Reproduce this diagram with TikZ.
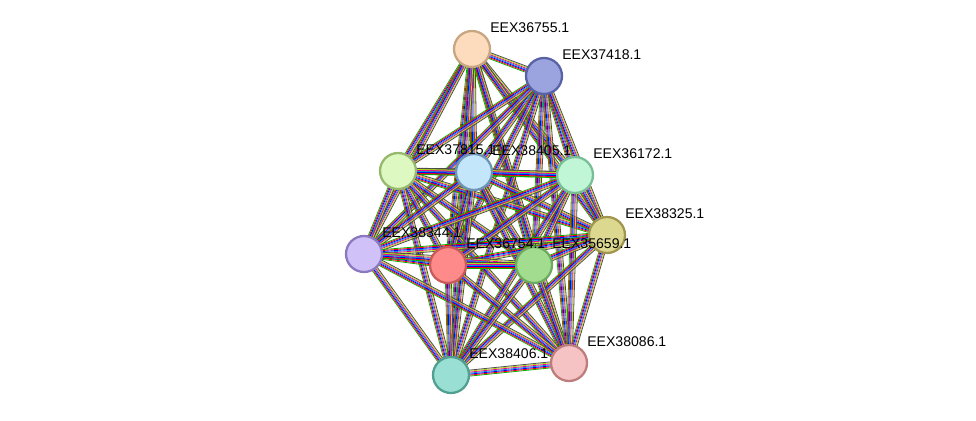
\documentclass[tikz,border=0pt]{standalone}
\usepackage{fontspec}
\setmainfont{Liberation Sans}
\usetikzlibrary{calc,backgrounds}
\tikzset{
  prot/.style={circle,draw,line width=1.3pt,minimum size=0.72cm,inner sep=0},
  lbl/.style={anchor=west,inner sep=0,font=\fontsize{8}{9}\selectfont},
  edge/.style={line width=0.45pt}
}
\begin{document}
\begin{tikzpicture}
\useasboundingbox (0,0) rectangle (19.52,8.4);
% proteins
\node[prot,fill={rgb,255:red,253;green,219;blue,189},draw={rgb,255:red,200;green,166;blue,130}] (n1) at (9.44,7.42) {};
\node[prot,fill={rgb,255:red,155;green,164;blue,222},draw={rgb,255:red,88;green,98;blue,166}] (n2) at (10.88,6.88) {};
\node[prot,fill={rgb,255:red,221;green,248;blue,192},draw={rgb,255:red,150;green,185;blue,110}] (n3) at (7.96,4.98) {};
\node[prot,fill={rgb,255:red,196;green,230;blue,250},draw={rgb,255:red,110;green,150;blue,180}] (n4) at (9.48,4.96) {};
\node[prot,fill={rgb,255:red,192;green,245;blue,214},draw={rgb,255:red,120;green,190;blue,150}] (n5) at (11.50,4.90) {};
\node[prot,fill={rgb,255:red,221;green,216;blue,144},draw={rgb,255:red,160;green,150;blue,80}] (n6) at (12.14,3.70) {};
\node[prot,fill={rgb,255:red,208;green,194;blue,248},draw={rgb,255:red,140;green,120;blue,190}] (n7) at (7.28,3.32) {};
\node[prot,fill={rgb,255:red,255;green,138;blue,138},draw={rgb,255:red,200;green,90;blue,90}] (n8) at (8.96,3.10) {};
\node[prot,fill={rgb,255:red,162;green,220;blue,142},draw={rgb,255:red,110;green,170;blue,95}] (n9) at (10.68,3.10) {};
\node[prot,fill={rgb,255:red,154;green,223;blue,212},draw={rgb,255:red,80;green,160;blue,145}] (n10) at (9.02,0.90) {};
\node[prot,fill={rgb,255:red,245;green,195;blue,195},draw={rgb,255:red,190;green,125;blue,125}] (n11) at (11.38,1.14) {};
% labels
\foreach \n/\t in {n1/EEX36755.1,n2/EEX37418.1,n3/EEX37815.1,n4/EEX38405.1,
  n5/EEX36172.1,n6/EEX38325.1,n7/EEX38344.1,n8/EEX36754.1,n9/EEX35659.1,
  n10/EEX38406.1,n11/EEX38086.1}
  \node[lbl] at ([shift={(0.36,0.42)}]\n) {\t};
% interactions
\begin{scope}[on background layer]
\foreach \i in {1,...,10}{
  \pgfmathtruncatemacro\s{\i+1}
  \foreach \j in {\s,...,11}{
    \foreach \o/\c in {-0.06/green!70!black,-0.04/red,-0.02/blue,0/cyan!80!blue,
      0.02/magenta,0.04/yellow!70!green,0.06/black!70}
      \draw[edge,\c] ($(n\i)!\o cm!90:(n\j)$) -- ($(n\j)!\o cm!-90:(n\i)$);
  }
}
\end{scope}
\end{tikzpicture}
\end{document}
